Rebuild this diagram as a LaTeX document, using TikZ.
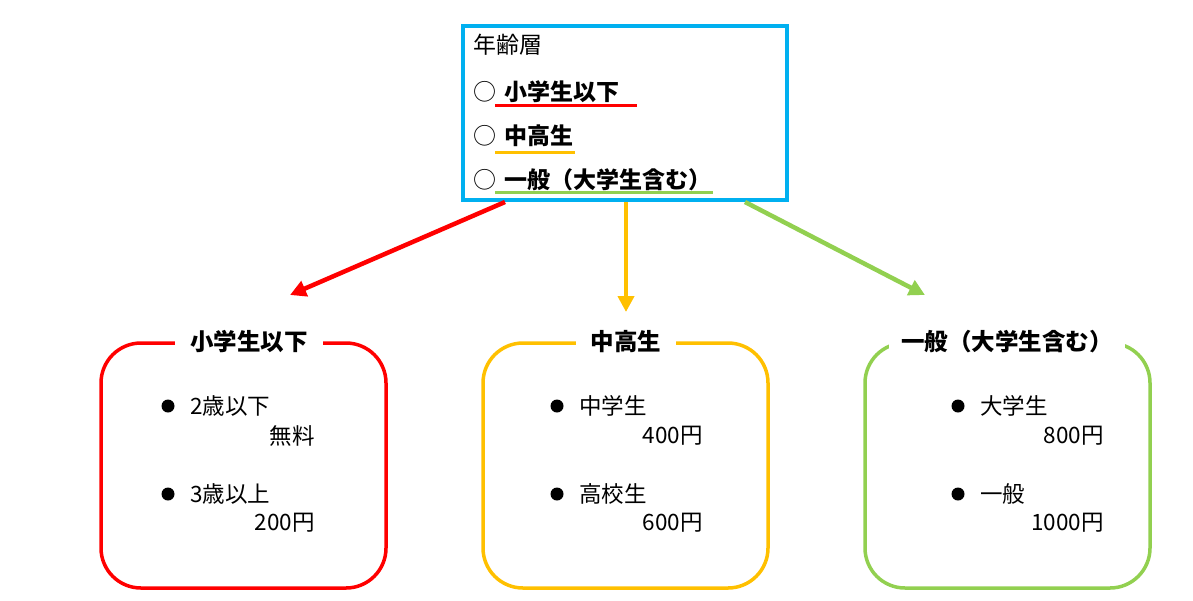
\documentclass[tikz,border=0pt]{standalone}
\usepackage{fontspec}
\setmainfont{Noto Sans CJK JP}
\usetikzlibrary{arrows.meta}
\definecolor{cred}{HTML}{FF0000}
\definecolor{corange}{HTML}{FFC000}
\definecolor{cgreen}{HTML}{92D050}
\definecolor{cblue}{HTML}{00B0F0}
\begin{document}
\begin{tikzpicture}[x=1pt,y=-1pt,
  groupbox/.style={line width=3.5pt,rounded corners=40pt},
  titletext/.style={fill=white,font=\fontsize{23.5}{26}\selectfont\bfseries,inner xsep=15pt,inner ysep=2pt},
  itemtext/.style={anchor=west,font=\fontsize{22.5}{25}\selectfont,inner sep=0pt},
  pricetext/.style={anchor=east,font=\fontsize{22.5}{25}\selectfont,inner sep=0pt},
  bulletdot/.style={circle,fill=black,inner sep=0pt,minimum size=13pt},
  toptext/.style={anchor=west,font=\fontsize{23}{26}\selectfont,inner sep=0pt},
  optline/.style={anchor=west,font=\fontsize{23}{26}\selectfont\bfseries,inner sep=0pt},
  uline/.style={line width=3pt},
  flow/.style={line width=4.5pt,-{Triangle[length=16pt,width=16pt]}}]
\useasboundingbox (0,0) rectangle (1193,600);
% top box
\node[draw=cblue,line width=3.5pt,minimum width=324pt,minimum height=174pt,inner sep=0pt] (top) at (625,113) {};
\node[toptext] (t0) at (473,45) {年齢層};
\node[toptext] (c1) at (473,92) {○};
\node[optline] (o1) at (504,92) {小学生以下};
\node[toptext] (c2) at (473,136) {○};
\node[optline] (o2) at (504,136) {中高生};
\node[toptext] (c3) at (473,180) {○};
\node[optline] (o3) at (504,180) {一般（大学生含む）};
\coordinate (u1a) at (495,105); \coordinate (u1b) at (637,105);
\coordinate (u2a) at (495,152); \coordinate (u2b) at (575,152);
\coordinate (u3a) at (495,192); \coordinate (u3b) at (713,192);
\draw[uline,cred] (u1a) -- (u1b);
\draw[uline,corange] (u2a) -- (u2b);
\draw[uline,cgreen] (u3a) -- (u3b);
% arrows
\coordinate (s1) at (505,202); \coordinate (e1) at (290,295);
\coordinate (s2) at (626,202); \coordinate (e2) at (626,312);
\coordinate (s3) at (745,202); \coordinate (e3) at (925,295);
\draw[flow,cred] (s1) -- (e1);
\draw[flow,corange] (s2) -- (e2);
\draw[flow,cgreen] (s3) -- (e3);
% group boxes
\draw[groupbox,cred] (101,343) rectangle (386,588);
\draw[groupbox,corange] (483,343) rectangle (768,588);
\draw[groupbox,cgreen] (865,343) rectangle (1150,588);
\node[titletext] (g1) at (249,342) {小学生以下};
\node[titletext] (g2) at (626,342) {中高生};
\node[titletext,inner xsep=12pt] (g3) at (1007,342) {一般（大学生含む）};
% red content
\node[bulletdot] (b11) at (168,406) {};
\node[itemtext] (i11) at (190,406) {2歳以下};
\node[pricetext] (p11) at (315,436) {無料};
\node[bulletdot] (b12) at (168,494) {};
\node[itemtext] (i12) at (190,494) {3歳以上};
\node[pricetext] (p12) at (315,523) {200円};
% orange content
\node[bulletdot] (b21) at (557,406) {};
\node[itemtext] (i21) at (579,406) {中学生};
\node[pricetext] (p21) at (703,436) {400円};
\node[bulletdot] (b22) at (557,494) {};
\node[itemtext] (i22) at (579,494) {高校生};
\node[pricetext] (p22) at (703,523) {600円};
% green content
\node[bulletdot] (b31) at (958,406) {};
\node[itemtext] (i31) at (980,406) {大学生};
\node[pricetext] (p31) at (1104,436) {800円};
\node[bulletdot] (b32) at (958,494) {};
\node[itemtext] (i32) at (980,494) {一般};
\node[pricetext] (p32) at (1104,523) {1000円};
\end{tikzpicture}
\end{document}
